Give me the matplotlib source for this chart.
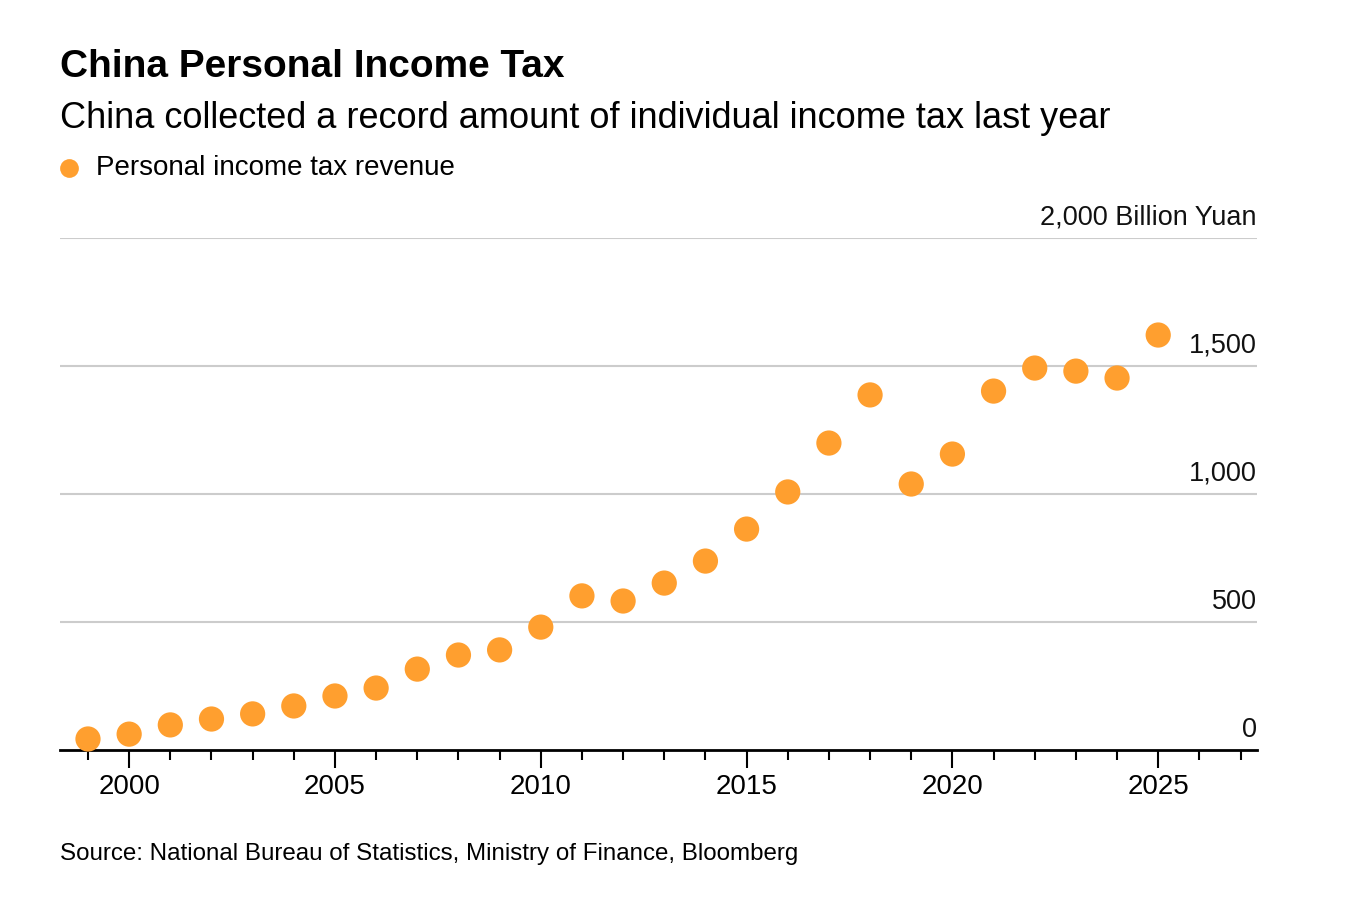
import matplotlib
matplotlib.use("Agg")
import matplotlib.pyplot as plt
from matplotlib.lines import Line2D
from matplotlib.ticker import MultipleLocator, FuncFormatter

# Personal income tax revenue, billion yuan
years = list(range(1999, 2026))
revenue = [43, 62, 98, 121, 141, 172, 211, 242, 316, 371, 391, 480, 602, 582,
           652, 738, 863, 1008, 1199, 1387, 1039, 1156, 1402, 1492, 1480, 1453, 1621]
y_ticks = [0, 500, 1000, 1500, 2000]
x_major = [2000, 2005, 2010, 2015, 2020, 2025]

orange = "#ff9f2f"
plt.rcParams['font.family'] = ['Liberation Sans', 'DejaVu Sans']

W, H = 1348, 918
fig = plt.figure(figsize=(W / 100, H / 100), dpi=100)
ax = fig.add_axes([60 / W, 1 - 750 / H, (1257 - 60) / W, (750 - 238) / H])

ax.scatter(years, revenue, s=330, color=orange, edgecolors="none", zorder=3, clip_on=False)

ax.set_xlim(1998.32, 2027.4)
ax.set_ylim(0, 2000)

# gridlines + labels sitting above them on the right
for v in y_ticks:
    if v > 0:
        ax.axhline(v, color="#cccccc", lw=1.5, zorder=1)
    lbl = f"{v:,}" + (" Billion Yuan" if v == 2000 else "")
    ax.text(1.0, v + 51, lbl, transform=ax.get_yaxis_transform(), ha="right", va="baseline",
            fontsize=19.5, color="#111111")

ax.set_yticks([])
for s in ["top", "right", "left"]:
    ax.spines[s].set_visible(False)
ax.spines["bottom"].set_linewidth(2)
ax.spines["bottom"].set_color("black")

ax.set_xticks(x_major)
ax.xaxis.set_minor_locator(MultipleLocator(1))
ax.xaxis.set_major_formatter(FuncFormatter(lambda x, p: f"{int(x)}"))
ax.tick_params(axis="x", which="major", length=13, width=1.5, labelsize=20, pad=4, color="black")
ax.tick_params(axis="x", which="minor", length=7, width=1.5, color="black")

fig.text(60 / W, 1 - 77 / H, "China Personal Income Tax", fontsize=28, fontweight="bold",
         va="baseline", ha="left")
fig.text(60 / W, 1 - 128 / H, "China collected a record amount of individual income tax last year",
         fontsize=26, va="baseline", ha="left")
fig.add_artist(Line2D([69 / W], [1 - 168 / H], marker="o", markersize=13.5, color=orange,
                      markeredgewidth=0, transform=fig.transFigure))
fig.text(96 / W, 1 - 175 / H, "Personal income tax revenue", fontsize=20, va="baseline", ha="left")
fig.text(60 / W, 1 - 860 / H, "Source: National Bureau of Statistics, Ministry of Finance, Bloomberg",
         fontsize=17.4, va="baseline", ha="left")

fig.savefig("out.png", dpi=100, facecolor="white")
